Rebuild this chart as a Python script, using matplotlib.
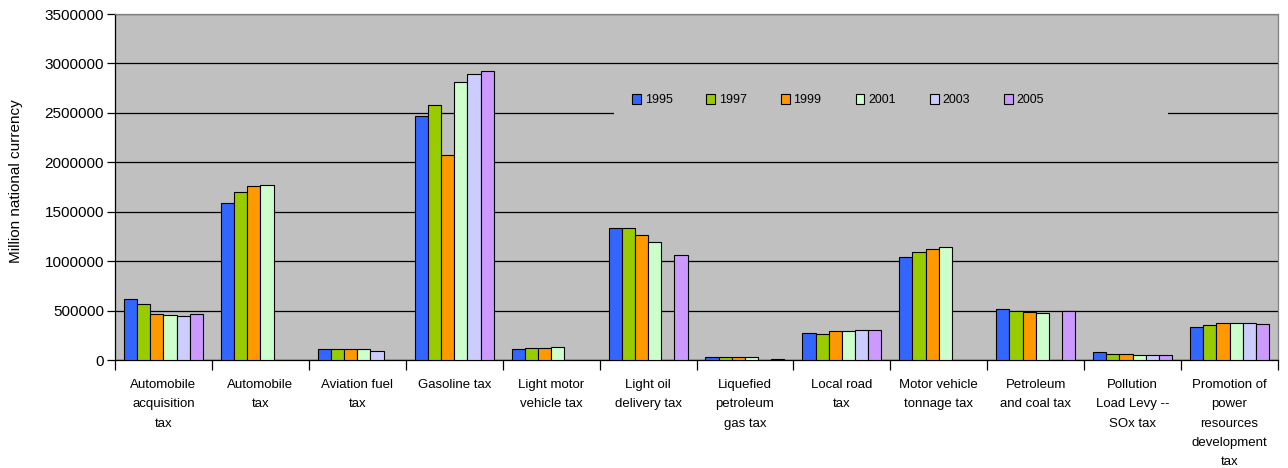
import numpy as np
import matplotlib
matplotlib.use("Agg")
import matplotlib.pyplot as plt
from matplotlib.patches import Rectangle

categories = ["Automobile\nacquisition\ntax", "Automobile\ntax", "Aviation fuel\ntax",
              "Gasoline tax", "Light motor\nvehicle tax", "Light oil\ndelivery tax",
              "Liquefied\npetroleum\ngas tax", "Local road\ntax", "Motor vehicle\ntonnage tax",
              "Petroleum\nand coal tax", "Pollution\nLoad Levy --\nSOx tax",
              "Promotion of\npower\nresources\ndevelopment\ntax"]
years = ["1995", "1997", "1999", "2001", "2003", "2005"]
nan = np.nan
v1995 = [614000, 1588000, 108000, 2465000, 108000, 1332000, 30000, 273000, 1045000, 516000, 78000, 337000]
v1997 = [563000, 1703000, 108000, 2579000, 118000, 1332000, 30000, 263000, 1089000, 496000, 64000, 351000]
v1999 = [465000, 1757000, 108000, 2074000, 118000, 1261000, 30000, 293000, 1120000, 486000, 64000, 371000]
v2001 = [452000, 1767000, 108000, 2815000, 128000, 1194000, 30000, 293000, 1140000, 475000, 54000, 371000]
v2003 = [442000, nan, 94000, 2890000, nan, nan, nan, 307000, nan, nan, 54000, 371000]
v2005 = [465000, nan, nan, 2920000, nan, 1059000, 9000, 307000, nan, 499000, 54000, 361000]
series = [v1995, v1997, v1999, v2001, v2003, v2005]
colors = ["#3366FF", "#99CC00", "#FF9900", "#CCFFCC", "#CCCCFF", "#CC99FF"]

plt.rcParams['font.family'] = ['Liberation Sans', 'DejaVu Sans']

fig = plt.figure(figsize=(12.88, 4.68), dpi=100)
ax = fig.add_axes([115/1288, 1 - 360/468, (1278-115)/1288, (360-14)/468])
ax.set_facecolor("#C0C0C0")

n = len(categories)
x = np.arange(n)
group_w = 0.815
bw = group_w / len(series)
for i, (vals, c, yr) in enumerate(zip(series, colors, years)):
    offs = -group_w/2 + bw*(i + 0.5)
    ax.bar(x + offs, vals, width=bw, color=c, edgecolor="black", linewidth=0.8,
           label=yr, zorder=3)

ax.set_xlim(-0.5, n - 0.5)
ax.set_ylim(0, 3500000)
ax.set_yticks(np.arange(0, 3500001, 500000))
ax.set_yticklabels([str(int(v)) for v in np.arange(0, 3500001, 500000)], fontsize=11)
ax.yaxis.grid(True, color="black", linewidth=0.9, zorder=1)
ax.set_axisbelow(True)

ax.set_xticks(x)
ax.set_xticklabels(categories, fontsize=9.5, linespacing=1.82, va="top")
ax.tick_params(axis="x", length=0, pad=13.5)
ax.set_xticks(np.arange(-0.5, n, 1), minor=True)
ax.tick_params(axis="x", which="minor", length=7, width=0.9, direction="out")
ax.tick_params(axis="y", length=6, width=0.9, direction="out", pad=2)

for s in ["left", "bottom"]:
    ax.spines[s].set_color("black")
    ax.spines[s].set_linewidth(0.9)
for s in ["top", "right"]:
    ax.spines[s].set_color("#808080")
    ax.spines[s].set_linewidth(0.9)

ax.set_ylabel("Million national currency", fontsize=11)
ax.yaxis.set_label_coords(-0.0791, 0.517)

# legend background area (hides gridline behind legend)
x0 = (614 - 115) / 1163 * n - 0.5
x1 = (1168 - 115) / 1163 * n - 0.5
ax.add_patch(Rectangle((x0, 2420000), x1 - x0, 380000, facecolor="#C0C0C0",
                       edgecolor="none", zorder=2))

leg = ax.legend(loc="center left", bbox_to_anchor=((632 - 115) / 1163, 0.7514), ncol=6,
                frameon=False, fontsize=8.9, borderaxespad=0, borderpad=0,
                handlelength=0.72, handleheight=0.95, handletextpad=0.3,
                columnspacing=2.75)
leg.set_zorder(5)

fig.savefig("out.png", dpi=100)
